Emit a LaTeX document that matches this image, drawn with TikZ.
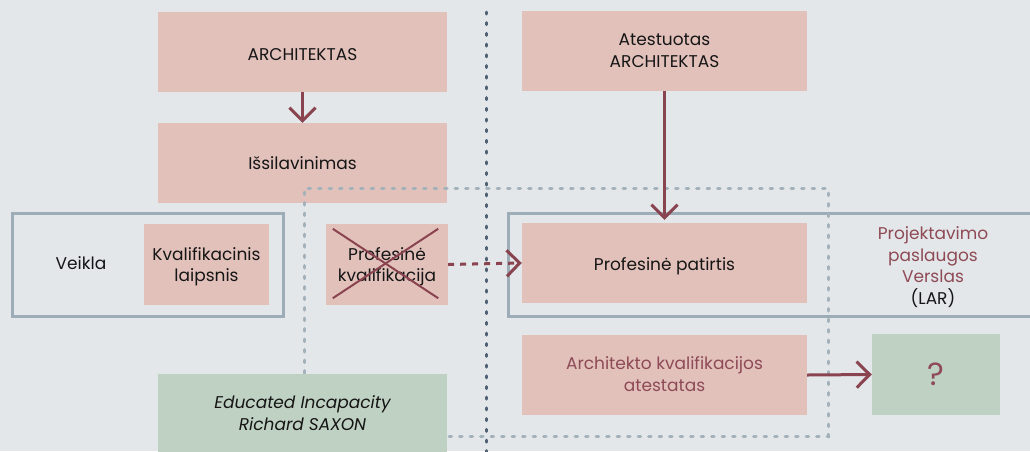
\documentclass[tikz,border=0pt]{standalone}
\usepackage{fontspec}
\setmainfont{Poppins}
\usetikzlibrary{arrows.meta,calc}
\definecolor{bg}{HTML}{E3E7EA}
\definecolor{pinkbox}{HTML}{E2C1BB}
\definecolor{greenbox}{HTML}{BFD1C2}
\definecolor{outl}{HTML}{9CADB8}
\definecolor{arr}{HTML}{8A4450}
\definecolor{redtext}{HTML}{8E4A55}
\definecolor{lightdot}{HTML}{A3B1BA}
\definecolor{darkdot}{HTML}{4F6173}
\definecolor{txt}{HTML}{151515}
\newcommand{\dn}[2][-3pt]{\raisebox{#1}[\height][\depth]{\begin{tabular}{@{}c@{}}#2\end{tabular}}}
\tikzset{
  txtstyle/.style={font=\fontsize{17}{21.5}\selectfont, text=txt, align=center, inner sep=0pt},
  pinkrect/.style={txtstyle, fill=pinkbox, minimum width=#1, minimum height=80pt},
  pinkrect/.default=289pt,
  greenrect/.style={txtstyle, fill=greenbox, minimum width=#1, minimum height=80pt},
  greenrect/.default=289pt,
  outlinerect/.style={draw=outl, line width=3pt, inner sep=0pt},
  redarrow/.style={draw=arr, line width=3pt, -{Straight Barb[length=13pt,width=26pt,line width=3pt]}},
  crossline/.style={draw=arr, line width=2pt},
}
\begin{document}
\begin{tikzpicture}[x=1pt,y=-1pt]
\useasboundingbox (0,0) rectangle (1030,451);
\clip (0,0) rectangle (1030,451);
\fill[bg] (0,0) rectangle (1030,451);

% outline rectangles
\node[outlinerect, minimum width=271pt, minimum height=103pt] (activity) at (147.5,264.5) {};
\node[outlinerect, minimum width=532pt, minimum height=103pt] (business) at (774,264.5) {};

% pink boxes
\node[pinkrect] (archi) at (302.5,52) {\dn[-4pt]{ARCHITEKTAS}};
\node[pinkrect] (issil) at (302.5,163) {\dn[-2pt]{Išsilavinimas}};
\node[pinkrect=285pt] (atest) at (664.5,51) {\dn[-1pt]{Atestuotas\\ARCHITEKTAS}};
\node[pinkrect=125pt, minimum height=81pt] (kval) at (206.5,264.5) {\dn[-2pt]{Kvalifikacinis\\laipsnis}};
\node[pinkrect=122pt, minimum height=81pt] (prof) at (387,264.5) {\dn[-2pt]{Profesinė\\kvalifikacija}};
\node[pinkrect=285pt] (patirtis) at (664.5,263) {\dn[-3pt]{Profesinė patirtis}};
\node[pinkrect=285pt, text=redtext] (atestatas) at (664.5,375) {\dn[-1pt]{Architekto kvalifikacijos\\atestatas}};
\node[greenrect=128pt, minimum height=81pt, text=redtext, font=\fontsize{32}{34}\selectfont] (q) at (936,374.5) {?};

% texts
\node[txtstyle] (veikla) at (81,263) {Veikla};
\node[txtstyle, text=redtext] (lar) at (933,267) {Projektavimo\\paslaugos\\Verslas\\\textcolor{txt}{(LAR)}};

% light dotted rectangle
\draw[lightdot, line width=3pt, line cap=round, dash pattern=on 2.5pt off 8pt]
  (304,436) -- (304,188) -- (828,188) -- (828,436) -- cycle;

% green box over dotted frame
\node[greenrect, minimum height=78pt, font=\fontsize{17}{21.5}\selectfont\itshape] (edu) at (302.5,413) {Educated Incapacity\\Richard SAXON};

% cross
\draw[crossline] ($(prof.north west)+(7,5)$) -- ($(prof.south east)+(-10,-7)$);
\draw[crossline] ($(prof.south west)+(7,-7)$) -- ($(prof.north east)+(-10,5)$);

% arrows
\draw[redarrow] (archi.south) -- (issil.north);
\draw[redarrow, shorten >=3pt] (atest.south) -- (patirtis.north);
\draw[redarrow, dash pattern=on 6pt off 6pt] (prof.east) -- (patirtis.west);
\draw[redarrow] (atestatas.east) -- (q.west);

% dark dotted divider
\coordinate (divtop) at (486,12);
\coordinate (divbot) at (486,455);
\draw[darkdot, line width=3pt, line cap=round, dash pattern=on 2pt off 8.7pt] (divtop) -- (divbot);
\end{tikzpicture}
\end{document}
